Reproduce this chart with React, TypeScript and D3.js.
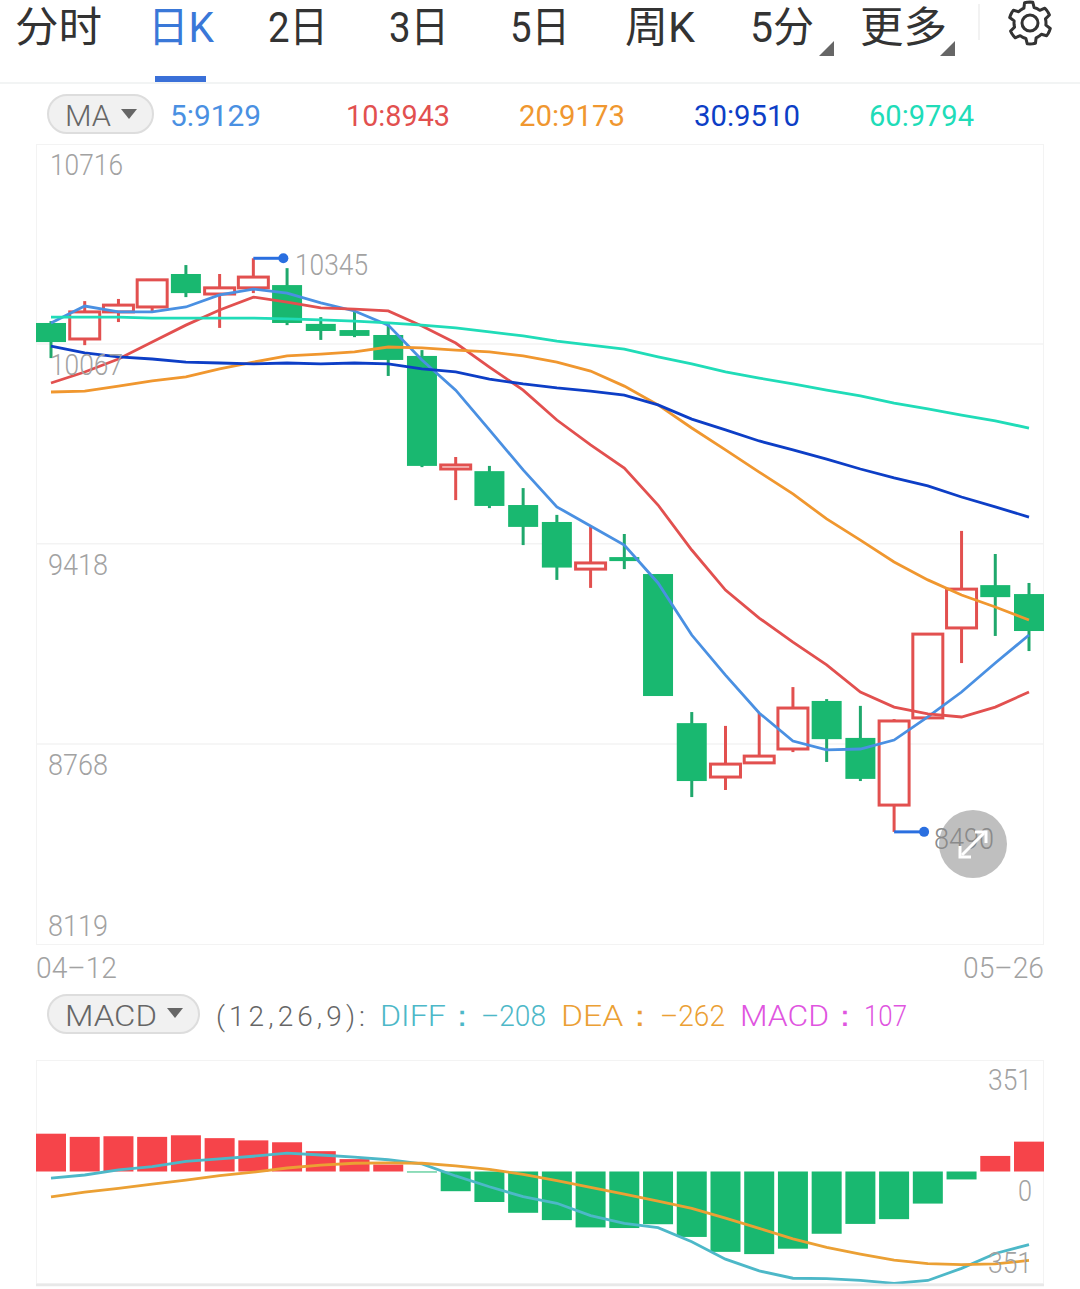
import React from "react";
import * as d3 from "d3";

const priceTicks = ["10716", "10067", "9418", "8768", "8119"];
const dates = ["04–12", "05–26"];
const opens = [10135,10083,10171,10187,10294,10229,10249,10258,10132,10112,10096,10028,9661,9654,9544,9489,9336,9375,9320,8836,8661,8707,8752,8908,8788,8570,8853,9145,9284,9255];
const closes = [10073,10171,10193,10275,10232,10249,10284,10135,10109,10093,10015,9671,9674,9541,9473,9341,9356,9362,8924,8648,8703,8729,8885,8784,8655,8843,9125,9271,9245,9135];
const highs = [10141,10206,10213,10275,10323,10294,10345,10313,10154,10177,10138,10047,9700,9671,9599,9512,9473,9450,9320,8872,8827,8869,8953,8914,8892,8849,9125,9460,9385,9291];
const lows = [10021,10063,10138,10171,10219,10119,10232,10128,10080,10089,9963,9667,9560,9534,9414,9301,9275,9336,8924,8596,8619,8707,8742,8710,8648,8483,8853,9031,9119,9070];
const ma5 = [10135,10190,10171,10171,10187,10226,10245,10232,10200,10174,10128,10015,9917,9788,9658,9538,9476,9414,9291,9122,8992,8869,8778,8749,8752,8781,8856,8937,9031,9122];
const ma10 = [9940,9976,10018,10073,10128,10177,10219,10203,10184,10180,10174,10125,10070,9992,9917,9820,9739,9664,9544,9398,9268,9177,9099,9025,8937,8888,8866,8856,8888,8937];
const ma20 = [9911,9914,9930,9947,9960,9986,10008,10028,10034,10041,10057,10054,10047,10041,10028,10008,9979,9930,9869,9794,9723,9651,9580,9499,9430,9359,9301,9252,9213,9171];
const ma30 = [10060,10038,10025,10018,10008,10005,10002,10005,10002,10005,10002,9986,9976,9953,9937,9924,9914,9901,9869,9823,9788,9752,9723,9693,9661,9632,9606,9570,9538,9505];
const ma60 = [10154,10154,10154,10151,10151,10151,10151,10148,10145,10141,10135,10128,10119,10106,10093,10076,10063,10050,10025,10002,9976,9956,9937,9917,9898,9875,9856,9836,9817,9794];
const macdBars = [119,109,111,109,114,105,98,92,64,39,22,-3,-62,-96,-130,-153,-176,-178,-166,-206,-253,-260,-243,-196,-165,-150,-101,-25,49,94];
const diff = [-21,-11,5,15,32,40,48,58,52,45,37,24,-14,-48,-79,-100,-139,-163,-177,-221,-276,-313,-336,-337,-343,-352,-343,-305,-258,-230];
const dea = [-80,-65,-53,-40,-27,-13,-2,11,20,26,27,26,18,7,-9,-29,-50,-71,-93,-116,-147,-179,-212,-239,-260,-279,-290,-293,-291,-280];
const tabs = ["分时", "日K", "2日", "3日", "5日", "周K", "5分", "更多"];
const maLegend = ["5:9129", "10:8943", "20:9173", "30:9510", "60:9794"];

const RED = "#e2504f", GREEN = "#19b870", GREY = "#a2a2a2", FONT = "Roboto, 'Noto Sans', sans-serif", TABFONT = "Roboto, 'Noto Sans CJK SC', sans-serif";
const maColors = ["#4a90e2", "#e2504f", "#f0972f", "#0d3ec6", "#20dcb8"];

const x = d3.scalePoint<number>().domain(d3.range(30)).range([51, 1029]);
const y = d3.scaleLinear().domain([8119, 10716]).range([944, 144]);
const my = d3.scaleLinear().domain([-351, 351]).range([1283, 1060]);
const path = (vals: number[], s: (v: number) => number) =>
  d3.line<number>().x((_, i) => x(i)!).y((v) => s(v))(vals)!;

function T({ x: tx, y: ty, w, size = 30, fill = GREY, font = FONT, weight = 300, adjust = "spacingAndGlyphs", children }: any) {
  return (
    <text x={tx} y={ty} fontSize={size} fill={fill} fontFamily={font} fontWeight={weight}
      textLength={w} lengthAdjust={adjust}>{children}</text>
  );
}

const tabPos = [[15, 87], [148, 66], [268, 60], [389, 60], [510, 60], [625, 70], [750, 64], [860, 87]];
const legendPos = [[170, 91], [346, 104], [519, 106], [694, 106], [869, 105]];

const gearPts: [number, number][] = d3.range(0, 48).map((i) => {
  const a = (i / 48) * 2 * Math.PI;
  const phase = ((i + 2) % 8) / 8;
  return [a, phase < 0.5 ? 21 : 16];
});

function Tri({ cx, cy }: { cx: number; cy: number }) {
  return <path d={`M${cx - 8},${cy - 5}L${cx + 8},${cy - 5}L${cx},${cy + 5}Z`} fill="#666" />;
}

export default function App() {
  const bw = 30;
  return (
    <svg width={1080} height={1289} style={{ position: "absolute", left: 0, top: 0, background: "#fff" }}>
      {/* tabs */}
      {tabs.map((t, i) => (
        <T key={t} x={tabPos[i][0]} y={42} w={tabPos[i][1]} size={42} font={TABFONT} weight={400}
          fill={i === 1 ? "#3a78d8" : "#333"}>{t}</T>
      ))}
      <rect x={155} y={76} width={51} height={6} fill="#3a70d8" />
      <line x1={0} x2={1080} y1={83} y2={83} stroke="#f2f4f4" strokeWidth={2} />
      <path d="M834,41V56H819Z" fill="#666" />
      <path d="M955,41V56H940Z" fill="#666" />
      <line x1={979} x2={979} y1={4} y2={40} stroke="#eee" strokeWidth={1.5} />
      <g transform="translate(1030,23)" fill="none" stroke="#333" strokeWidth={3}>
        <path d={d3.lineRadial().curve(d3.curveLinearClosed)(gearPts)!} strokeLinejoin="round" />
        <circle r={8} />
      </g>

      {/* MA legend */}
      <rect x={48} y={95} width={105} height={38} rx={19} fill="#f1f1f1" stroke="#ddd" strokeWidth={2} />
      <T x={65} y={126} w={46} fill="#666">MA</T>
      <Tri cx={129} cy={114} />
      {maLegend.map((t, i) => (
        <T key={t} x={legendPos[i][0]} y={126} w={legendPos[i][1]} fill={maColors[i]} weight={400}>{t}</T>
      ))}

      {/* main panel frame */}
      <rect x={36.5} y={144.5} width={1007} height={800} fill="none" stroke="#f3f3f3" />
      {[10067, 9418, 8768].map((v) => (
        <line key={v} x1={36} x2={1044} y1={y(v)} y2={y(v)} stroke="#f3f3f3" strokeWidth={1.5} />
      ))}

      {/* candles */}
      {opens.map((o, i) => {
        const c = closes[i];
        const up = c >= o;
        const top = y(Math.max(o, c)), bottom = y(Math.min(o, c));
        const col = up ? RED : GREEN;
        return (
          <g key={i}>
            <line x1={x(i)} x2={x(i)} y1={y(highs[i])} y2={y(lows[i])} stroke={up ? RED : "#1fa86c"} strokeWidth={3} />
            {up ? (
              <rect x={x(i)! - bw / 2} y={top} width={bw} height={bottom - top} fill="#fff" stroke={col} strokeWidth={3} />
            ) : (
              <rect x={x(i)! - bw / 2} y={top} width={bw} height={bottom - top} fill={col} />
            )}
          </g>
        );
      })}

      {/* high / low notes */}
      <path d={`M${x(6)},${y(10345)}H${x(6)! + 30}`} stroke="#2a6fe0" strokeWidth={3} fill="none" />
      <circle cx={x(6)! + 30} cy={y(10345)} r={5} fill="#2a6fe0" />
      <path d={`M${x(25)},${y(8483)}H${x(25)! + 30}`} stroke="#2a6fe0" strokeWidth={3} fill="none" />
      <circle cx={x(25)! + 30} cy={y(8483)} r={5} fill="#2a6fe0" />

      {/* MA lines */}
      {[ma5, ma10, ma20, ma30, ma60].map((m, i) => (
        <path key={i} d={path(m, y)} fill="none" stroke={maColors[i]} strokeWidth={2.8} />
      ))}

      {/* price labels */}
      <T x={50} y={175} w={73}>{priceTicks[0]}</T>
      <T x={50} y={375} w={73}>{priceTicks[1]}</T>
      <T x={48} y={575} w={60}>{priceTicks[2]}</T>
      <T x={48} y={775} w={60}>{priceTicks[3]}</T>
      <T x={48} y={936} w={60}>{priceTicks[4]}</T>
      <T x={295} y={275} w={73}>10345</T>

      {/* expand button */}
      <circle cx={973} cy={844} r={34} fill="#bfbfbf" />
      <T x={934} y={849} w={60} fill="#8a8a8a">8490</T>
      <g stroke="#fff" strokeWidth={3} fill="none">
        <path d="M962,855L984,833" />
        <path d="M975,832H986V843" />
        <path d="M960,846V857H971" />
      </g>

      {/* dates */}
      <T x={36} y={978} w={81}>{dates[0]}</T>
      <T x={963} y={978} w={81}>{dates[1]}</T>

      {/* MACD legend */}
      <rect x={48} y={995} width={151} height={38} rx={19} fill="#f1f1f1" stroke="#ddd" strokeWidth={2} />
      <T x={65} y={1026} w={92} fill="#666">MACD</T>
      <Tri cx={175} cy={1013} />
      <T x={216} y={1026} w={149} fill="#666" size={28} adjust="spacing">(12,26,9):</T>
      <T x={380} y={1026} w={98} fill="#4db8c8">DIFF：</T>
      <T x={481} y={1026} w={65} fill="#4db8c8">–208</T>
      <T x={561} y={1026} w={96} fill="#eba034">DEA：</T>
      <T x={660} y={1026} w={65} fill="#eba034">–262</T>
      <T x={740} y={1026} w={121} fill="#e055e0">MACD：</T>
      <T x={864} y={1026} w={43} fill="#e055e0">107</T>

      {/* MACD panel */}
      <rect x={36.5} y={1060.5} width={1007} height={223} fill="none" stroke="#f3f3f3" />
      {macdBars.map((v, i) => (
        <rect key={i} x={x(i)! - bw / 2} width={bw}
          y={Math.min(my(v), my(0))} height={Math.abs(my(v) - my(0))}
          fill={v >= 0 ? "#f6444a" : GREEN} />
      ))}
      <path d={path(diff, my)} fill="none" stroke="#4db8c8" strokeWidth={2.8} />
      <path d={path(dea, my)} fill="none" stroke="#eba034" strokeWidth={2.8} />
      <line x1={36} x2={1044} y1={1285} y2={1285} stroke="#e8e8e8" strokeWidth={2.5} />
      <T x={988} y={1090} w={44}>351</T>
      <T x={1018} y={1201} w={14}>0</T>
      <T x={988} y={1273} w={44}>351</T>
    </svg>
  );
}
